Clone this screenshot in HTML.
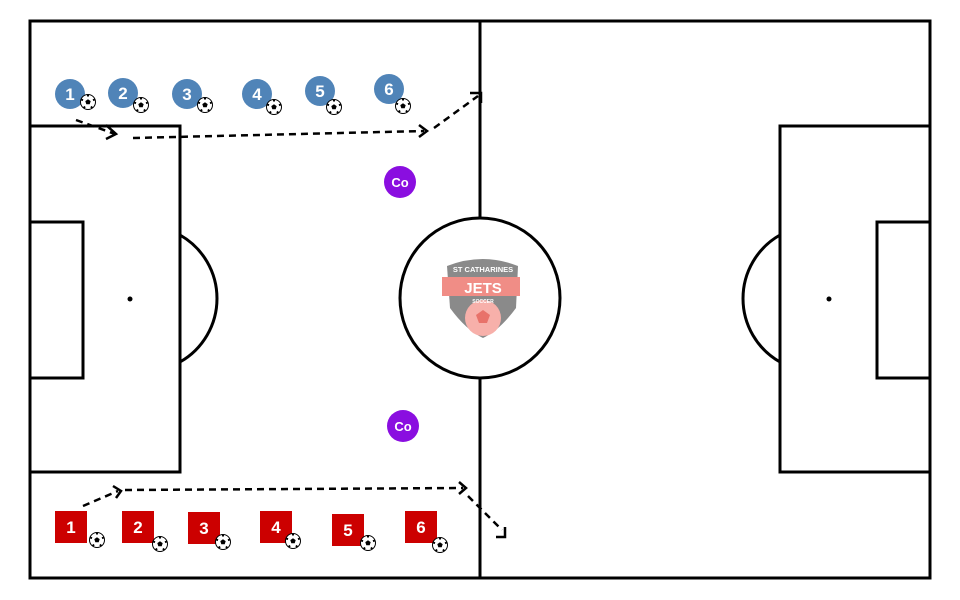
<!DOCTYPE html>
<html><head><meta charset="utf-8"><style>
html,body{margin:0;padding:0;background:#fff;}
svg{display:block;}
text{font-family:"Liberation Sans",sans-serif;font-weight:bold;}
</style></head><body>
<svg width="960" height="600" viewBox="0 0 960 600" xmlns="http://www.w3.org/2000/svg">
<defs>
<g id="ball">
<circle r="7.5" fill="#fff" stroke="#000" stroke-width="1"/>
<polygon points="0,-2.8 2.7,-0.9 1.7,2.3 -1.7,2.3 -2.7,-0.9" fill="#000"/>
<path d="M0,-7.5 L0,-5.5 M6.8,-2.5 L5,-1.8 M4.3,6 L3,4.5 M-4.3,6 L-3,4.5 M-6.8,-2.5 L-5,-1.8" stroke="#000" stroke-width="2"/>
</g>
</defs>
<g fill="none" stroke="#000" stroke-width="3">
<rect x="30" y="21" width="900" height="557"/>
<line x1="480" y1="21" x2="480" y2="578"/>
<circle cx="480" cy="298" r="80" fill="#fff"/>
<rect x="30" y="126" width="150" height="346"/>
<rect x="30" y="222" width="53" height="156"/>
<path d="M180,235 A73,73 0 0 1 180,362"/>
<rect x="780" y="126" width="150" height="346"/>
<rect x="877" y="222" width="53" height="156"/>
<path d="M780,235 A73,73 0 0 0 780,362"/>
</g>
<circle cx="130" cy="299" r="2.5"/>
<circle cx="829" cy="299" r="2.5"/>
<!-- logo -->
<g>
<path d="M447,266 Q483,252 518,266 L516,308 Q500,330 483,338 Q466,330 450,308 Z" fill="#8a8a8a"/>
<rect x="442" y="277" width="78" height="19" fill="#f08d86"/>
<circle cx="483" cy="318" r="18" fill="#f7b0aa"/>
<polygon points="483,310 490,315 487,323 479,323 476,315" fill="#e8726a"/>
<text x="483" y="272" font-size="7.5" fill="#fff" text-anchor="middle">ST CATHARINES</text>
<text x="483" y="293" font-size="15" fill="#fff" text-anchor="middle">JETS</text>
<text x="483" y="303" font-size="5" fill="#fff" text-anchor="middle">SOCCER</text>
</g>
<!-- dashed arrows -->
<g fill="none" stroke="#000" stroke-width="2.5" stroke-dasharray="7,5">
<path d="M76,120 L115,134"/>
<path d="M133,138 L424,131"/>
<path d="M434,128 L478,96"/>
<path d="M83,506 L118,491"/>
<path d="M125,490 L463,488"/>
<path d="M468,496 L502,530"/>
</g>
<g fill="none" stroke="#000" stroke-width="2.5">
<path d="M106,125 L116,134 L106,139"/>
<path d="M419,125 L427,131 L419,137"/>
<path d="M470,93 L481,93 L481,103"/>
<path d="M113,486 L121,491 L116,498"/>
<path d="M459,482 L466,488 L459,494"/>
<path d="M505,527 L505,537 L496,537"/>
</g>
<!-- blue players -->
<g fill="#5084b8">
<circle cx="70" cy="94" r="15"/><circle cx="123" cy="93" r="15"/><circle cx="187" cy="94" r="15"/>
<circle cx="257" cy="94" r="15"/><circle cx="320" cy="91" r="15"/><circle cx="389" cy="89" r="15"/>
</g>
<g fill="#fff" font-size="17" text-anchor="middle">
<text x="70" y="100">1</text><text x="123" y="99">2</text><text x="187" y="100">3</text>
<text x="257" y="100">4</text><text x="320" y="97">5</text><text x="389" y="95">6</text>
</g>
<use href="#ball" x="88" y="102"/><use href="#ball" x="141" y="105"/><use href="#ball" x="205" y="105"/>
<use href="#ball" x="274" y="107"/><use href="#ball" x="334" y="107"/><use href="#ball" x="403" y="106"/>
<!-- red players -->
<g fill="#cc0000">
<rect x="55" y="511" width="32" height="32"/><rect x="122" y="511" width="32" height="32"/>
<rect x="188" y="512" width="32" height="32"/><rect x="260" y="511" width="32" height="32"/>
<rect x="332" y="514" width="32" height="32"/><rect x="405" y="511" width="32" height="32"/>
</g>
<g fill="#fff" font-size="17" text-anchor="middle">
<text x="71" y="533">1</text><text x="138" y="533">2</text><text x="204" y="534">3</text>
<text x="276" y="533">4</text><text x="348" y="536">5</text><text x="421" y="533">6</text>
</g>
<use href="#ball" x="97" y="540"/><use href="#ball" x="160" y="544"/><use href="#ball" x="223" y="542"/>
<use href="#ball" x="293" y="541"/><use href="#ball" x="368" y="543"/><use href="#ball" x="440" y="545"/>
<!-- coaches -->
<circle cx="400" cy="182" r="16" fill="#8a0ee0"/>
<circle cx="403" cy="426" r="16" fill="#8a0ee0"/>
<text x="400" y="187" fill="#fff" font-size="13" text-anchor="middle">Co</text>
<text x="403" y="431" fill="#fff" font-size="13" text-anchor="middle">Co</text>
</svg>
</body></html>
